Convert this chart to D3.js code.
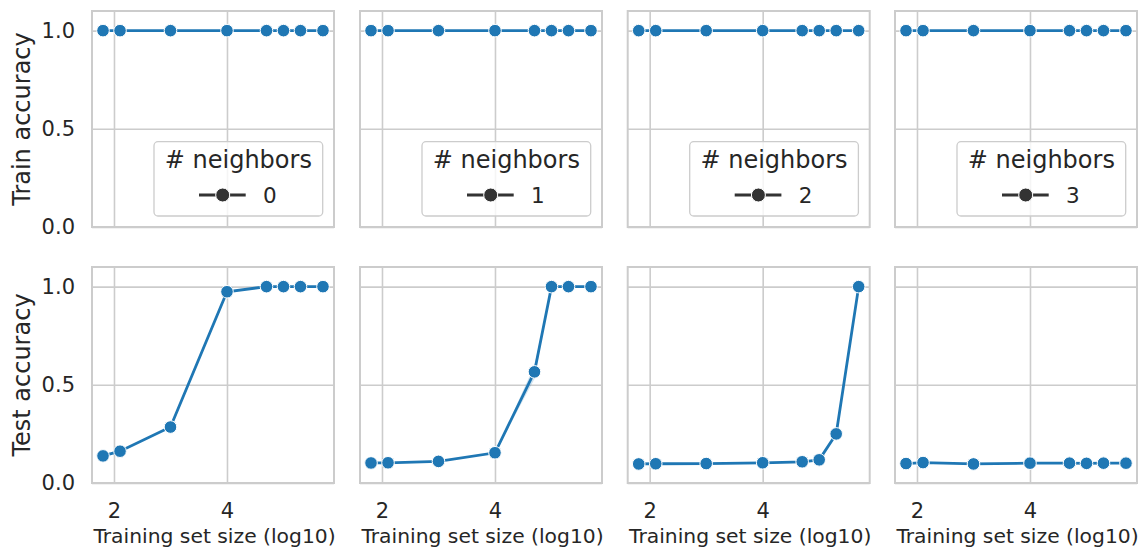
<!DOCTYPE html>
<html>
<head>
<meta charset="utf-8">
<script src="https://cdn.jsdelivr.net/npm/d3@7"></script>
<style>
  body { margin: 0; background: #fff; }
  svg { font-family: "DejaVu Sans", sans-serif; }
</style>
</head>
<body>
<div id="chart"></div>
<script>
(function () {

// data
const neighbors = [0, 1, 2, 3];
const sizeLog10 = [1.806, 2.107, 3.0, 4.0, 4.699, 5.0, 5.301, 5.699];

const trainAcc = [
  [1, 1, 1, 1, 1, 1, 1, 1],
  [1, 1, 1, 1, 1, 1, 1, 1],
  [1, 1, 1, 1, 1, 1, 1, 1],
  [1, 1, 1, 1, 1, 1, 1, 1]
];

const testAcc = [
  [0.138, 0.162, 0.285, 0.974, 1.0, 1.0, 1.0, 1.0],
  [0.102, 0.103, 0.110, 0.154, 0.566, 1.0, 1.0, 1.0],
  [0.097, 0.098, 0.099, 0.103, 0.108, 0.118, 0.250, 1.0],
  [0.099, 0.104, 0.097, 0.101, 0.101, 0.100, 0.101, 0.101]
];

// confidence band (only visible in the second panel)
const testLow = [
  [0.138, 0.162, 0.285, 0.974, 1.0, 1.0, 1.0, 1.0],
  [0.102, 0.103, 0.110, 0.154, 0.530, 1.0, 1.0, 1.0],
  [0.097, 0.098, 0.099, 0.103, 0.108, 0.118, 0.250, 1.0],
  [0.099, 0.104, 0.097, 0.101, 0.101, 0.100, 0.101, 0.101]
];
const testHigh = [
  [0.138, 0.162, 0.285, 0.974, 1.0, 1.0, 1.0, 1.0],
  [0.102, 0.103, 0.110, 0.154, 0.600, 1.0, 1.0, 1.0],
  [0.097, 0.098, 0.099, 0.103, 0.108, 0.118, 0.250, 1.0],
  [0.099, 0.104, 0.097, 0.101, 0.101, 0.100, 0.101, 0.101]
];

const xTicks = [2, 4];
const yTicks = [0, 0.5, 1.0];
const rowLabels = ["Train accuracy", "Test accuracy"];

// layout
const W = 1144, H = 548;
const panelLeft = [92, 360, 627.7, 895];
const panelW = 242;
const rowTop = [11, 267];
const panelH = 216;

const blue = "#1f77b4";
const textColor = "#262626";
const gridColor = "#cccccc";

const svg = d3.select("#chart").append("svg")
    .attr("width", W)
    .attr("height", H);

const xDomain = [1.611, 5.894];
const yDomain = [0, 1.1];

rowLabels.forEach((rowLabel, r) => {
  neighbors.forEach((nb, c) => {
    const left = panelLeft[c], top = rowTop[r];
    const x = d3.scaleLinear().domain(xDomain).range([left, left + panelW]);
    const y = d3.scaleLinear().domain(yDomain).range([top + panelH, top]);

    const g = svg.append("g");

    // grid via axes
    const yAxis = d3.axisLeft(y)
      .tickValues(yTicks)
      .tickSize(-panelW)
      .tickPadding(17)
      .tickFormat(c === 0 ? d3.format(".1f") : () => "");
    const gy = g.append("g")
      .attr("transform", `translate(${left},0)`)
      .call(yAxis);

    const xAxis = d3.axisBottom(x)
      .tickValues(xTicks)
      .tickSize(-panelH)
      .tickPadding(20)
      .tickFormat(r === 1 ? d3.format("d") : () => "");
    const gx = g.append("g")
      .attr("transform", `translate(0,${top + panelH})`)
      .call(xAxis);

    [gx, gy].forEach(ax => {
      ax.select(".domain").remove();
      ax.selectAll(".tick line").attr("stroke", gridColor).attr("stroke-width", 1.6);
      ax.selectAll(".tick text")
        .attr("fill", textColor)
        .attr("font-size", 21)
        .attr("font-family", "DejaVu Sans");
    });

    // frame
    g.append("rect")
      .attr("x", left).attr("y", top)
      .attr("width", panelW).attr("height", panelH)
      .attr("fill", "none")
      .attr("stroke", gridColor)
      .attr("stroke-width", 2);

    const vals = r === 0 ? trainAcc[c] : testAcc[c];
    const pts = sizeLog10.map((s, i) => ({ s, v: vals[i], lo: r === 0 ? vals[i] : testLow[c][i], hi: r === 0 ? vals[i] : testHigh[c][i] }));

    // band
    g.append("path")
      .datum(pts)
      .attr("fill", blue)
      .attr("fill-opacity", 0.2)
      .attr("d", d3.area().x(d => x(d.s)).y0(d => y(d.lo)).y1(d => y(d.hi)));

    g.append("path")
      .datum(pts)
      .attr("fill", "none")
      .attr("stroke", blue)
      .attr("stroke-width", 2.8)
      .attr("d", d3.line().x(d => x(d.s)).y(d => y(d.v)));

    g.selectAll("circle.pt")
      .data(pts)
      .join("circle")
      .attr("class", "pt")
      .attr("cx", d => x(d.s))
      .attr("cy", d => y(d.v))
      .attr("r", 6.3)
      .attr("fill", blue)
      .attr("stroke", "#fff")
      .attr("stroke-width", 1);

    // legend on top row
    if (r === 0) {
      const lw = 168.7, lh = 74.3;
      const lx = left + panelW - 11.3 - lw;
      const ly = top + panelH - 11 - lh;
      const lg = g.append("g").attr("transform", `translate(${lx},${ly})`);
      lg.append("rect")
        .attr("width", lw).attr("height", lh)
        .attr("rx", 4)
        .attr("fill", "#fff").attr("fill-opacity", 0.8)
        .attr("stroke", gridColor).attr("stroke-width", 1.3);
      lg.append("text")
        .attr("x", lw / 2).attr("y", 26.3)
        .attr("text-anchor", "middle")
        .attr("font-size", 24)
        .attr("fill", textColor)
        .text("# neighbors");
      lg.append("line")
        .attr("x1", 45).attr("x2", 91.7)
        .attr("y1", 53.3).attr("y2", 53.3)
        .attr("stroke", "#333").attr("stroke-width", 3);
      lg.append("circle")
        .attr("cx", 68.7).attr("cy", 53.3).attr("r", 7)
        .attr("fill", "#333").attr("stroke", "#fff").attr("stroke-width", 1);
      lg.append("text")
        .attr("x", 109).attr("y", 61)
        .attr("font-size", 21.5)
        .attr("fill", textColor)
        .text(nb);
    }

    // x label on bottom row
    if (r === 1) {
      g.append("text")
        .attr("x", left + panelW / 2 + 1.5)
        .attr("y", 543)
        .attr("text-anchor", "middle")
        .attr("font-size", 20.3)
        .attr("fill", textColor)
        .text("Training set size (log10)");
    }
  });

  // row label
  svg.append("text")
    .attr("transform", `translate(30,${rowTop[r] + panelH / 2}) rotate(-90)`)
    .attr("text-anchor", "middle")
    .attr("font-size", 24)
    .attr("fill", textColor)
    .text(rowLabel);
});

})()
</script>
</body>
</html>
